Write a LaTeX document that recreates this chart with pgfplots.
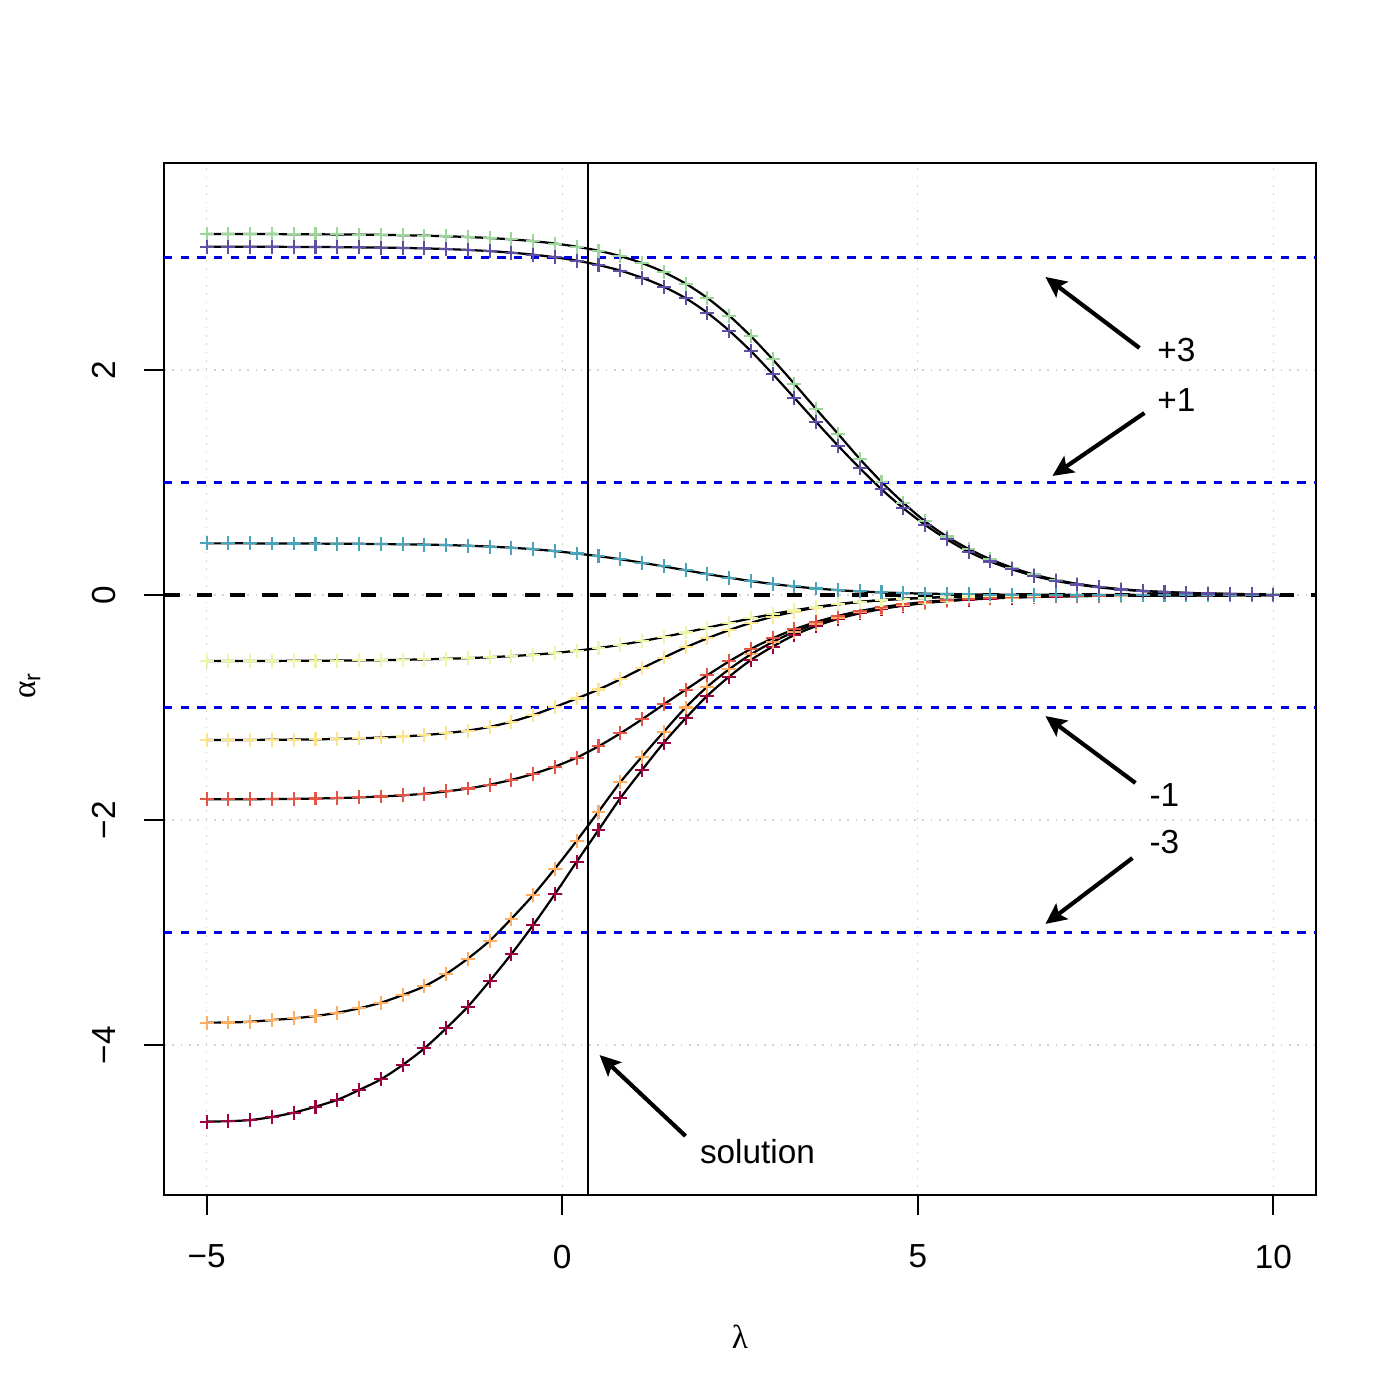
\documentclass[border=0pt]{standalone}
\usepackage{fontspec}
\setmainfont{Liberation Sans}
\newfontfamily\greekfont{Liberation Serif}
\usepackage{pgfplots}
\usepackage{pgfplotstable}
\pgfplotsset{compat=1.18}
\usetikzlibrary{arrows.meta}
\definecolor{cA}{HTML}{9CD69A}
\definecolor{cB}{HTML}{5E4FA2}
\definecolor{cC}{HTML}{4AA3B8}
\definecolor{cD}{HTML}{EEF5A6}
\definecolor{cE}{HTML}{FBE48C}
\definecolor{cF}{HTML}{E55546}
\definecolor{cG}{HTML}{FDAE61}
\definecolor{cH}{HTML}{9E0142}
\pgfplotstableread{
x A B C D E F G H
-5.000 3.209 3.096 0.459 -0.587 -1.289 -1.816 -3.801 -4.681
-4.694 3.209 3.096 0.459 -0.587 -1.289 -1.816 -3.800 -4.677
-4.388 3.208 3.095 0.459 -0.586 -1.288 -1.815 -3.793 -4.667
-4.082 3.208 3.095 0.458 -0.586 -1.287 -1.814 -3.778 -4.640
-3.776 3.207 3.094 0.458 -0.585 -1.285 -1.812 -3.763 -4.601
-3.469 3.206 3.093 0.457 -0.584 -1.283 -1.809 -3.742 -4.548
-3.163 3.205 3.092 0.456 -0.583 -1.279 -1.805 -3.713 -4.487
-2.857 3.203 3.090 0.455 -0.581 -1.274 -1.799 -3.674 -4.400
-2.551 3.201 3.088 0.453 -0.579 -1.267 -1.791 -3.624 -4.305
-2.245 3.198 3.085 0.451 -0.576 -1.258 -1.781 -3.556 -4.178
-1.939 3.194 3.081 0.448 -0.572 -1.245 -1.766 -3.478 -4.030
-1.633 3.189 3.075 0.444 -0.567 -1.228 -1.746 -3.368 -3.852
-1.327 3.182 3.067 0.438 -0.561 -1.205 -1.720 -3.232 -3.659
-1.020 3.173 3.057 0.430 -0.553 -1.172 -1.686 -3.073 -3.431
-0.714 3.161 3.043 0.420 -0.543 -1.126 -1.643 -2.877 -3.191
-0.408 3.145 3.025 0.407 -0.531 -1.067 -1.590 -2.667 -2.933
-0.102 3.124 3.002 0.390 -0.515 -0.995 -1.525 -2.432 -2.658
0.204 3.096 2.972 0.369 -0.495 -0.920 -1.445 -2.184 -2.370
0.510 3.060 2.933 0.345 -0.471 -0.840 -1.345 -1.926 -2.089
0.816 3.012 2.884 0.318 -0.443 -0.750 -1.230 -1.665 -1.807
1.122 2.950 2.820 0.287 -0.410 -0.652 -1.105 -1.437 -1.556
1.429 2.870 2.740 0.254 -0.373 -0.556 -0.972 -1.215 -1.313
1.735 2.768 2.638 0.220 -0.333 -0.466 -0.842 -1.000 -1.096
2.041 2.640 2.508 0.186 -0.291 -0.385 -0.713 -0.815 -0.895
2.347 2.483 2.350 0.154 -0.249 -0.312 -0.590 -0.660 -0.726
2.653 2.300 2.168 0.124 -0.208 -0.248 -0.480 -0.528 -0.578
2.959 2.095 1.965 0.098 -0.170 -0.193 -0.385 -0.418 -0.459
3.265 1.877 1.752 0.076 -0.136 -0.148 -0.305 -0.328 -0.356
3.571 1.653 1.538 0.058 -0.106 -0.112 -0.240 -0.257 -0.276
3.878 1.433 1.328 0.043 -0.081 -0.084 -0.186 -0.200 -0.212
4.184 1.210 1.128 0.032 -0.061 -0.062 -0.143 -0.155 -0.163
4.490 1.005 0.940 0.023 -0.046 -0.046 -0.109 -0.119 -0.125
4.796 0.820 0.772 0.017 -0.034 -0.034 -0.083 -0.091 -0.095
5.102 0.655 0.624 0.012 -0.025 -0.025 -0.062 -0.069 -0.072
5.408 0.520 0.495 0.009 -0.018 -0.018 -0.047 -0.052 -0.054
5.714 0.410 0.385 0.006 -0.013 -0.013 -0.035 -0.039 -0.041
6.020 0.318 0.298 0.004 -0.010 -0.010 -0.026 -0.029 -0.031
6.327 0.243 0.228 0.003 -0.007 -0.007 -0.019 -0.022 -0.023
6.633 0.182 0.170 0.002 -0.005 -0.005 -0.014 -0.016 -0.017
6.939 0.135 0.126 0.002 -0.004 -0.004 -0.010 -0.012 -0.013
7.245 0.099 0.093 0.001 -0.003 -0.003 -0.008 -0.009 -0.010
7.551 0.072 0.068 0.001 -0.002 -0.002 -0.006 -0.007 -0.007
7.857 0.052 0.049 0.001 -0.001 -0.001 -0.004 -0.005 -0.005
8.163 0.037 0.035 0.000 -0.001 -0.001 -0.003 -0.004 -0.004
8.469 0.027 0.025 0.000 -0.001 -0.001 -0.002 -0.003 -0.003
8.776 0.019 0.018 0.000 0.000 0.000 -0.002 -0.002 -0.002
9.082 0.014 0.013 0.000 0.000 0.000 -0.001 -0.001 -0.002
9.388 0.010 0.009 0.000 0.000 0.000 -0.001 -0.001 -0.001
9.694 0.007 0.006 0.000 0.000 0.000 -0.001 -0.001 -0.001
10.000 0.005 0.004 0.000 0.000 0.000 -0.001 0.000 -0.001
}\data
\begin{document}
\begin{tikzpicture}[font=\fontsize{12bp}{14.4bp}\selectfont]
\begin{axis}[
  scale only axis, width=414.7bp, height=371.5bp,
  xmin=-5.6, xmax=10.6, ymin=-5.333, ymax=3.84,
  clip=false,
  axis line style={line width=0.75bp},
  xtick={-5,0,5,10}, xticklabels={−5,0,5,10},
  ytick={-4,-2,0,2}, yticklabels={−4,−2,0,2},
  xtick pos=left, ytick pos=left,
  tick align=outside, major tick length=7.2bp,
  tick style={line width=0.75bp, black},
  tick label style={font=\fontsize{12bp}{14.4bp}\selectfont},
  xticklabel shift=7.3bp,
  yticklabel style={rotate=90, anchor=south},
  yticklabel shift=6.7bp,
  grid=major,
  grid style={line width=0.5bp, color=gray!35, dash pattern=on 0.6bp off 2.4bp},
  xlabel={{\greekfont λ}}, ylabel={{\greekfont α}\textsubscript{r}},
  label style={font=\fontsize{12bp}{14.4bp}\selectfont},
  xlabel style={at={(axis description cs:0.5,-0.1376)}, anchor=center},
  ylabel style={at={(axis description cs:-0.1163,0.494)}, anchor=center, rotate=0},
]
\path (rel axis cs:-0.14236,-0.19864) rectangle (rel axis cs:1.07292,1.15795);
% curves
\foreach \c in {A,B,C,D,E,F,G,H}{
  \addplot[black, line width=0.8bp, smooth, no marks] table[x=x, y=\c] {\data};
}
\addplot[only marks, mark=+, mark size=2.5bp, mark options={line width=0.75bp}, color=cH] table[x=x, y=H] {\data};
\addplot[only marks, mark=+, mark size=2.5bp, mark options={line width=0.75bp}, color=cG] table[x=x, y=G] {\data};
\addplot[only marks, mark=+, mark size=2.5bp, mark options={line width=0.75bp}, color=cF] table[x=x, y=F] {\data};
\addplot[only marks, mark=+, mark size=2.5bp, mark options={line width=0.75bp}, color=cE] table[x=x, y=E] {\data};
\addplot[only marks, mark=+, mark size=2.5bp, mark options={line width=0.75bp}, color=cD] table[x=x, y=D] {\data};
\addplot[only marks, mark=+, mark size=2.5bp, mark options={line width=0.75bp}, color=cC] table[x=x, y=C] {\data};
\addplot[only marks, mark=+, mark size=2.5bp, mark options={line width=0.75bp}, color=cA] table[x=x, y=A] {\data};
\addplot[only marks, mark=+, mark size=2.5bp, mark options={line width=0.75bp}, color=cB] table[x=x, y=B] {\data};
% reference lines
\addplot[blue!90!black, line width=0.75bp, dash pattern=on 3bp off 3bp] coordinates {(-5.6,3) (10.6,3)};
\addplot[blue!90!black, line width=0.75bp, dash pattern=on 3bp off 3bp] coordinates {(-5.6,1) (10.6,1)};
\addplot[blue!90!black, line width=0.75bp, dash pattern=on 3bp off 3bp] coordinates {(-5.6,-1) (10.6,-1)};
\addplot[blue!90!black, line width=0.75bp, dash pattern=on 3bp off 3bp] coordinates {(-5.6,-3) (10.6,-3)};
\addplot[black, line width=1.6bp, dash pattern=on 5.6bp off 6.2bp] coordinates {(-5.6,0) (10.6,0)};
\addplot[black, line width=0.75bp] coordinates {(0.357,-5.333) (0.357,3.84)};
% annotations
\draw[line width=1.5bp, -{Stealth[length=7.5bp, width=7bp, inset=1.5bp]}] (axis cs:8.117,2.196) -- (axis cs:6.795,2.827);
\draw[line width=1.5bp, -{Stealth[length=7.5bp, width=7bp, inset=1.5bp]}] (axis cs:8.187,1.618) -- (axis cs:6.894,1.058);
\draw[line width=1.5bp, -{Stealth[length=7.5bp, width=7bp, inset=1.5bp]}] (axis cs:8.061,-1.671) -- (axis cs:6.795,-1.076);
\draw[line width=1.5bp, -{Stealth[length=7.5bp, width=7bp, inset=1.5bp]}] (axis cs:8.019,-2.338) -- (axis cs:6.795,-2.924);
\draw[line width=1.5bp, -{Stealth[length=7.5bp, width=7bp, inset=1.5bp]}] (axis cs:1.734,-4.809) -- (axis cs:0.525,-4.089);
\node at (axis cs:8.637,2.178) {+3};
\node at (axis cs:8.637,1.733) {+1};
\node at (axis cs:8.468,-1.778) {-1};
\node at (axis cs:8.468,-2.196) {-3};
\node at (axis cs:2.746,-4.951) {solution};
\end{axis}
\end{tikzpicture}
\end{document}
